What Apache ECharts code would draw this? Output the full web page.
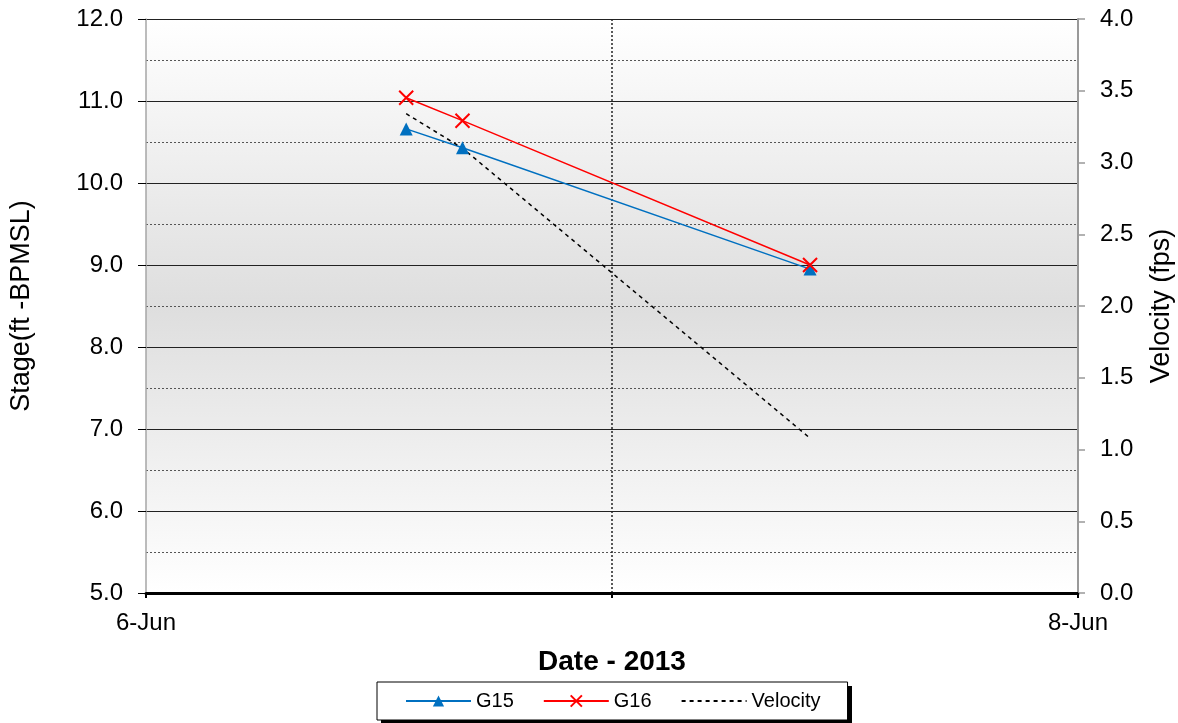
<!DOCTYPE html>
<html>
<head>
<meta charset="utf-8">
<script src="https://cdn.jsdelivr.net/npm/echarts@6/dist/echarts.min.js"></script>
<style>
  html, body { margin: 0; padding: 0; background: #fff; }
  #main { width: 1178px; height: 723px; }
</style>
</head>
<body>
<div id="main"></div>
<script>
// hours after 6-Jun 00:00
const g15Hours = [13.4, 16.3, 34.2];
const g15Stage = [10.66, 10.43, 8.95];
const g16Hours = [13.4, 16.3, 34.2];
const g16Stage = [11.04, 10.76, 9.00];
const velHours = [13.4, 16.3, 34.1];
const velocity = [3.34, 3.10, 1.09];
const xTickLabels = ['6-Jun', '', '8-Jun'];

const FONT = '"Liberation Sans", Arial, sans-serif';

function pairs(xs, ys) {
    return xs.map((x, i) => [x, ys[i]]);
}

const chart = echarts.init(document.getElementById('main'));
chart.setOption({
    animation: false,
    textStyle: { fontFamily: FONT, color: '#000' },
    grid: {
        left: 146, right: 100, top: 19, bottom: 130,
        outerBoundsMode: 'none',
        containLabel: false,
        show: true,
        borderWidth: 0,
        backgroundColor: {
            type: 'linear', x: 0, y: 0, x2: 0, y2: 1,
            colorStops: [
                { offset: 0, color: '#ffffff' },
                { offset: 0.5, color: '#dedede' },
                { offset: 1, color: '#ffffff' }
            ]
        }
    },
    // legend drop shadow
    graphic: [{
        type: 'rect', z: 1,
        shape: { x: 381, y: 686, width: 471, height: 38 },
        style: { fill: '#000' }
    }],
    legend: {
        left: 377, top: 682, z: 5,
        itemWidth: 65, itemHeight: 14, itemGap: 29,
        padding: [9, 27, 9, 28],
        backgroundColor: '#fff',
        borderColor: '#000', borderWidth: 1,
        textStyle: { fontFamily: FONT, fontSize: 20, color: '#000' },
        data: [
            'G15',
            'G16',
            { name: 'Velocity', itemStyle: { opacity: 0, color: 'rgba(0,0,0,0)' } }
        ]
    },
    xAxis: {
        type: 'value',
        min: 0, max: 48, interval: 24,
        name: 'Date - 2013',
        nameLocation: 'middle',
        nameGap: 55,
        nameTextStyle: { fontFamily: FONT, fontSize: 28, fontWeight: 'bold', color: '#000' },
        axisLine: { lineStyle: { color: '#000', width: 3 } },
        axisTick: { show: true, length: 5, lineStyle: { color: '#000', width: 2 } },
        axisLabel: {
            margin: 18, fontSize: 24, color: '#000', fontFamily: FONT,
            formatter: v => xTickLabels[Math.round(v / 24)] || ''
        },
        splitLine: {
            show: true, showMinLine: false, showMaxLine: false,
            lineStyle: { color: '#222', width: 1.5, type: [2, 2] }
        }
    },
    yAxis: [
        {
            type: 'value',
            min: 5, max: 12, interval: 1,
            name: 'Stage(ft -BPMSL)',
            nameLocation: 'middle',
            nameGap: 111,
            nameTextStyle: { fontFamily: FONT, fontSize: 27, color: '#000' },
            axisLine: { show: true, lineStyle: { color: '#a6a6a6', width: 1.5 } },
            axisTick: { show: true, length: 8, lineStyle: { color: '#000' } },
            axisLabel: { margin: 23, fontSize: 24, color: '#000', fontFamily: FONT, formatter: v => v.toFixed(1) },
            splitLine: { show: true, lineStyle: { color: '#222', width: 1 } },
            minorTick: { show: false, splitNumber: 2 },
            minorSplitLine: { show: true, lineStyle: { color: '#555', width: 1, type: [2, 2] } }
        },
        {
            type: 'value',
            min: 0, max: 4, interval: 0.5,
            position: 'right',
            name: 'Velocity (fps)',
            nameLocation: 'middle',
            nameGap: 70,
            nameRotate: 90,
            nameTextStyle: { fontFamily: FONT, fontSize: 27, color: '#000' },
            axisLine: { show: true, lineStyle: { color: '#999', width: 2 } },
            axisTick: { show: true, length: 7, lineStyle: { color: '#999', width: 1.5 } },
            axisLabel: { margin: 22, fontSize: 24, color: '#000', fontFamily: FONT, formatter: v => v.toFixed(1) },
            splitLine: { show: false }
        }
    ],
    series: [
        {
            name: 'G15',
            type: 'line',
            data: pairs(g15Hours, g15Stage),
            symbol: 'triangle',
            symbolSize: 13,
            showAllSymbol: true,
            itemStyle: { color: '#0070c0' },
            lineStyle: { color: '#0070c0', width: 1.5 }
        },
        {
            name: 'G16',
            type: 'line',
            data: pairs(g16Hours, g16Stage),
            symbol: 'path://M0,0L10,10M10,0L0,10',
            symbolSize: 14,
            itemStyle: { color: 'none', borderColor: '#ff0000', borderWidth: 2 },
            lineStyle: { color: '#ff0000', width: 1.5 }
        },
        {
            name: 'Velocity',
            type: 'line',
            yAxisIndex: 1,
            data: pairs(velHours, velocity),
            symbol: 'none',
            itemStyle: { color: '#000' },
            lineStyle: { color: '#000', width: 1.5, type: [4, 4] }
        }
    ]
});
</script>
</body>
</html>
